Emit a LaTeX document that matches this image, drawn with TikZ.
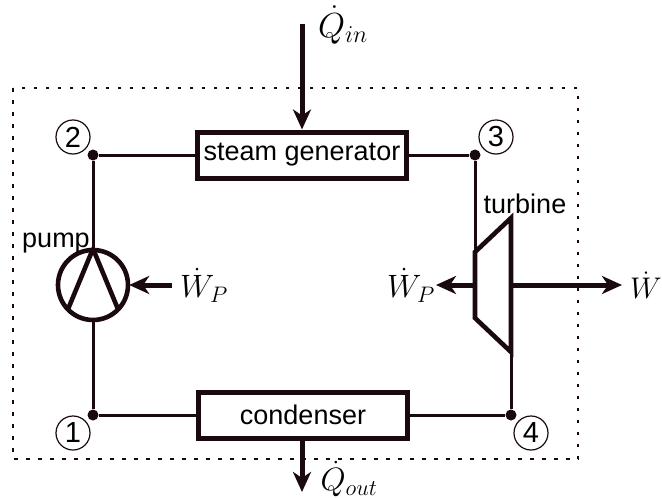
\documentclass[tikz,border=0pt]{standalone}
\usepackage{fontspec}
\setmainfont{Liberation Sans}
\usetikzlibrary{arrows.meta}
\definecolor{ink}{HTML}{1A0A0E}
\tikzset{
  x=1pt,y=-1pt,
  wire/.style={draw=ink,line width=3pt},
  heavy/.style={draw=ink,line width=4.6pt},
  flow/.style={draw=ink,line width=5pt,-{Stealth[length=20pt,width=18pt,inset=6pt]}},
  unit/.style={draw=ink,fill=white,line width=5pt,inner sep=0pt,font=\fontsize{27}{29}\selectfont},
  dot/.style={circle,fill=ink,inner sep=0pt,minimum size=11pt},
  state/.style={circle,draw=ink,line width=1.2pt,inner sep=0pt,minimum size=34pt,font=\fontsize{29}{30}\selectfont},
  lbl/.style={inner sep=0pt,font=\fontsize{27}{29}\selectfont},
  mathlbl/.style={inner sep=0pt,font=\fontsize{23}{25}\selectfont},
  system/.style={draw=ink,line width=1.8pt,dash pattern=on 3.5pt off 8.5pt}
}
\begin{document}
\begin{tikzpicture}
\useasboundingbox (0,0) rectangle (662,498);
\fill[white] (0,0) rectangle (662,498);
\draw[system] (13,88) rectangle (578,459);
% junctions and named anchors
\node[dot] (j2) at (93,155) {};
\node[dot] (j3) at (475,155) {};
\node[dot] (j1) at (93,415) {};
\node[dot] (j4) at (511,415) {};
\coordinate (tTL) at (475,252);
\coordinate (tTR) at (511,218);
\coordinate (tBR) at (511,352);
\coordinate (tBL) at (475,318);
\coordinate (tWL) at (475,285);
\coordinate (tWR) at (511,285);
\node[circle,minimum size=72pt,inner sep=0pt] (pump) at (93,285) {};
% units
\node[unit,minimum width=209pt,minimum height=46pt] (sg) at (302,155) {steam generator};
\node[unit,minimum width=209pt,minimum height=46pt] (cond) at (303,415) {condenser};
% wires
\draw[wire] (j2) -- (sg.west);
\draw[wire] (sg.east) -- (j3);
\draw[wire] (j3) -- (tTL);
\draw[wire] (j2) -- (pump.north);
\draw[wire] (pump.south) -- (j1);
\draw[wire] (j1) -- (cond.west);
\draw[wire] (cond.east) -- (j4);
\draw[wire] (tBR) -- (j4);
% pump symbol
\draw[heavy] (pump) circle[radius=35];
\draw[heavy,line join=round] (pump.225) -- (pump.north) -- (pump.-45);
% turbine
\draw[heavy,line join=miter] (tTL) -- (tTR) -- (tBR) -- (tBL) -- cycle;
% energy flows
\coordinate (qinS) at (302,24);
\coordinate (qoutE) at (302,492);
\coordinate (wpS) at (172,285);
\coordinate (wpE) at (436,285);
\coordinate (wE) at (622,285);
\draw[flow] (qinS) -- (sg.north -| qinS);
\draw[flow] (cond.south -| qoutE) -- (qoutE);
\draw[flow] (wpS) -- (pump.east);
\draw[flow] (tWL) -- (wpE);
\draw[flow] (tWR) -- (wE);
% state labels
\node[state] (s2) at (73,137) {2};
\node[state] (s3) at (496,137) {3};
\node[state] (s1) at (73,433) {1};
\node[state] (s4) at (531,433) {4};
% text labels
\node[lbl] (lp) at (56,243) {pump};
\node[lbl] (lt) at (525,204) {turbine};
\node[mathlbl,scale=1.4] (qin) at (343,25) {$\dot Q_{in}$};
\node[mathlbl,scale=1.3] (qout) at (349,479) {$\dot Q_{out}$};
\node[mathlbl,scale=1.3] (wp1) at (204,285) {$\dot W_P$};
\node[mathlbl,scale=1.3] (wp2) at (411,285) {$\dot W_P$};
\node[mathlbl,scale=1.2] (w) at (646,285) {$\dot W$};
\end{tikzpicture}
\end{document}
